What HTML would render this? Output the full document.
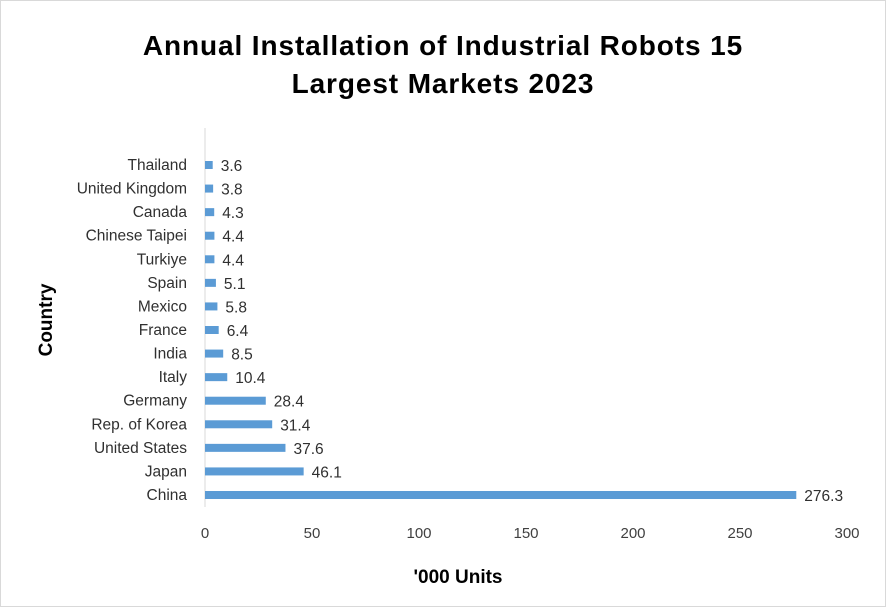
<!DOCTYPE html>
<html><head><meta charset="utf-8"><style>
body{margin:0;background:#fff;}
svg{display:block;font-family:"Liberation Sans",sans-serif;}
</style></head><body>
<svg id="c" width="886" height="607">
<rect x="0.5" y="0.5" width="885" height="606" fill="#fff" stroke="#d9d9d9"/>
<text x="443" y="55" text-anchor="middle" font-size="28" font-weight="bold" letter-spacing="0.9" fill="#000">Annual Installation of Industrial Robots 15</text>
<text x="443" y="93" text-anchor="middle" font-size="28" font-weight="bold" letter-spacing="0.9" fill="#000">Largest Markets 2023</text>
<text transform="translate(52,320) rotate(-90)" text-anchor="middle" font-size="19" font-weight="bold">Country</text>
<text x="458" y="583" text-anchor="middle" font-size="19" font-weight="bold">'000 Units</text>
<line x1="205" y1="128" x2="205" y2="507" stroke="#d9d9d9"/>
<g id="g"></g>
</svg>
<script>
const categories=["China","Japan","United States","Rep. of Korea","Germany","Italy","India","France","Mexico","Spain","Turkiye","Chinese Taipei","Canada","United Kingdom","Thailand"];
const values=[276.3,46.1,37.6,31.4,28.4,10.4,8.5,6.4,5.8,5.1,4.4,4.4,4.3,3.8,3.6];
const ticks=[0,50,100,150,200,250,300];
const ns="http://www.w3.org/2000/svg";
const g=document.getElementById('g');
const x=v=>205+v*(847-205)/300;
const y=i=>495-i*(495-165)/14;
function mk(t,a){const e=document.createElementNS(ns,t);for(const k in a)e.setAttribute(k,a[k]);g.appendChild(e);return e;}
ticks.forEach(t=>{const e=mk('text',{x:x(t),y:538,'text-anchor':'middle','font-size':15,fill:'#404040'});e.textContent=t;

});
categories.forEach((c,i)=>{
const l=mk('text',{x:187,y:y(i)+5,'text-anchor':'end','font-size':15.5,fill:'#303030'});l.textContent=c;


const b=mk('rect',{x:x(0),y:y(i)-4,width:x(values[i])-x(0),height:8,fill:'#5b9bd5'});


const v=mk('text',{x:x(values[i])+8,y:y(i)+6,'font-size':15.5,fill:'#303030'});v.textContent=values[i].toFixed(1);


});
</script>
</body></html>
